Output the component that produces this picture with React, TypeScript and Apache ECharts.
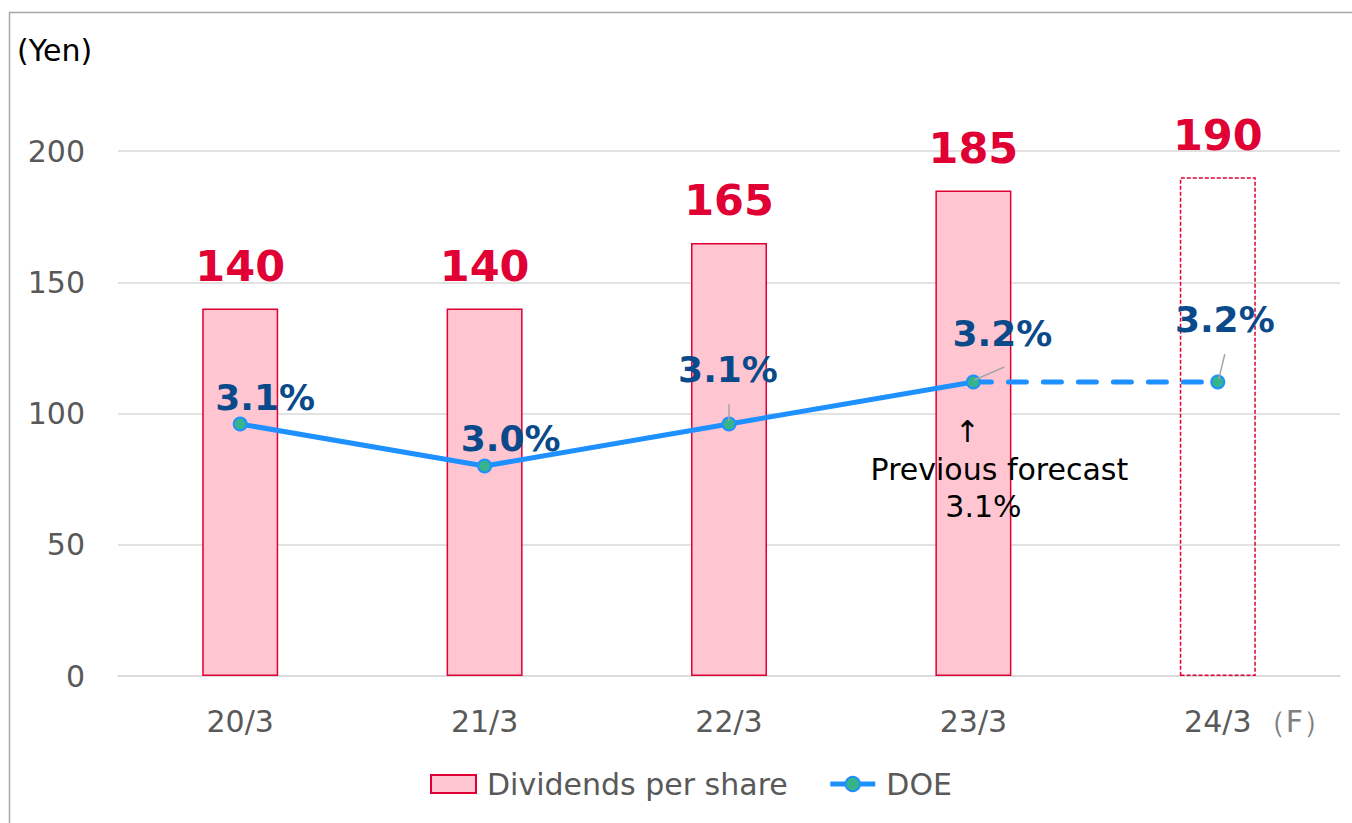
import React, { useEffect, useRef } from 'react';
import * as echarts from 'echarts';

const categories = ['20/3', '21/3', '22/3', '23/3', '24/3'];
const dividends = [140, 140, 165, 185, 190];
const doe = [3.1, 3.0, 3.1, 3.2, 3.2];
const forecastIndex = 4;
const yTickInterval = 50;
const previousForecastText = ['↑', 'Previous forecast', '3.1%'];

// label offsets relative to each DOE point (style only)
const doeLabelOffsets = [[25, -27], [26, -28], [-1, -55], [29, -49], [7, -63]];
// leader lines relative to DOE points: [index, x1, y1, x2, y2]
const leaderLines = [[2, 0, -20, 0, -3], [3, 1, -2, 31, -15], [4, 7, -28, 1, -3]];

const FONT = 'DejaVu Sans';
const RED = '#e00034';
const PINK = '#ffc6d1';
const BLUE = '#1e90ff';
const NAVY = '#0b4a8a';
const GREEN = '#35b38b';

export default function App() {
  const ref = useRef<HTMLDivElement>(null);
  useEffect(() => {
    document.body.style.margin = '0';
    const chart = echarts.init(ref.current!, undefined, { renderer: 'svg' });
    const solid = doe.map((v, i) => (i < forecastIndex ? v : null));
    const dashed = doe.map((v, i) => (i >= forecastIndex - 1 ? v : null));
    const labelFor = (i: number) => ({
      show: true,
      position: 'inside',
      offset: doeLabelOffsets[i],
      formatter: (p: any) => `${p.value.toFixed(1)}%`,
      color: NAVY,
      fontSize: 36,
      fontWeight: 'bold',
      fontFamily: FONT,
    });
    const baseGraphic: any[] = [
      {
        id: 'frame', type: 'rect', silent: true, z: -10,
        shape: { x: 9.5, y: 12.5, width: 1500, height: 1000 },
        style: { fill: 'none', stroke: '#a6a6a6', lineWidth: 1.5 },
      },
      {
        id: 'yen', type: 'text', x: 17, y: 50,
        style: { text: '(Yen)', fontSize: 30, fontFamily: FONT, fill: '#000', textVerticalAlign: 'middle' },
      },
    ];
    chart.setOption({
      animation: false,
      grid: { left: 118, right: 12, top: 151, bottom: 147, containLabel: false },
      legend: {
        left: 425, top: 764, itemWidth: 45, itemHeight: 18, itemGap: 40,
        data: [
          { name: 'Dividends per share', icon: 'rect' },
          { name: 'DOE', lineStyle: { width: 5, color: BLUE } },
        ],
        textStyle: { fontSize: 30, fontFamily: FONT, color: '#595959', padding: [0, 0, 0, 6] },
      },
      xAxis: {
        type: 'category',
        data: categories,
        axisTick: { show: false },
        axisLine: { lineStyle: { color: '#d9d9d9', width: 1.5 } },
        axisLabel: {
          interval: 0,
          margin: 30, fontSize: 30, fontFamily: FONT, color: '#595959',
          formatter: (v: string, i: number) => (i === forecastIndex ? `{p|}{a|${v}}{f|（F）}` : v),
          rich: {
            p: { width: 76 },
            a: { fontSize: 30, fontFamily: FONT, color: '#595959' },
            f: { fontSize: 30, fontFamily: FONT, color: '#808080', width: 66, padding: [0, 0, 0, 10] },
          },
        },
      },
      yAxis: [
        {
          type: 'value', min: 0, max: 200, interval: yTickInterval,
          axisLine: { show: false }, axisTick: { show: false },
          axisLabel: { margin: 33, fontSize: 30, fontFamily: FONT, color: '#595959' },
          splitLine: { lineStyle: { color: '#d9d9d9', width: 1.5 } },
        },
        { type: 'value', min: 2.5, max: 3.75, show: false, splitLine: { show: false } },
      ],
      series: [
        {
          name: 'Dividends per share', type: 'bar', barWidth: 76,
          itemStyle: { color: PINK, borderColor: RED, borderWidth: 1.5 },
          label: {
            show: true, position: 'top', distance: 21, color: RED,
            fontSize: 43, fontWeight: 'bold', fontFamily: FONT,
          },
          data: dividends.map((v, i) =>
            i === forecastIndex
              ? { value: v, itemStyle: { color: 'rgba(255,255,255,0)', borderColor: RED, borderWidth: 1.5, borderType: [4, 2] } }
              : v
          ),
        },
        {
          name: 'DOE', type: 'line', yAxisIndex: 1, z: 5,
          symbol: 'circle', symbolSize: 13,
          lineStyle: { color: BLUE, width: 5 },
          itemStyle: { color: GREEN, borderColor: BLUE, borderWidth: 2 },
          data: solid.map((v, i) => (v === null ? null : { value: v, label: labelFor(i) })),
        },
        {
          name: 'DOE', type: 'line', yAxisIndex: 1, z: 4,
          symbol: 'circle', symbolSize: 13,
          lineStyle: { color: BLUE, width: 5, type: [18, 17], cap: 'round' },
          itemStyle: { color: GREEN, borderColor: BLUE, borderWidth: 2 },
          data: dashed.map((v, i) =>
            v === null ? null : i === forecastIndex ? { value: v, label: labelFor(i) } : { value: v, symbol: 'none' }
          ),
        },
      ],
      graphic: baseGraphic,
    });

    const pt = (i: number) => chart.convertToPixel({ seriesIndex: 1 }, [i, doe[i]]) as number[];
    const extra: any[] = [];
    leaderLines.forEach(([idx, x1, y1, x2, y2], k) => {
      const [px, py] = pt(idx);
      extra.push({
        id: 'leader' + k, type: 'line', silent: true, z: 100,
        shape: { x1: px + x1, y1: py + y1, x2: px + x2, y2: py + y2 },
        style: { stroke: '#a6a6a6', lineWidth: 1.5 },
      });
    });
    const [ax, ay] = pt(3);
    const annOffsets = [[-6, 49], [26, 87], [10, 124]];
    previousForecastText.forEach((t, k) => {
      extra.push({
        id: 'ann' + k, type: 'text', z: 100,
        x: ax + annOffsets[k][0], y: ay + annOffsets[k][1],
        style: { text: t, fontSize: 30, fontFamily: FONT, fill: '#000', textAlign: 'center', textVerticalAlign: 'middle' },
      });
    });
    chart.setOption({ graphic: [...baseGraphic, ...extra] });
    return () => chart.dispose();
  }, []);
  return <div ref={ref} style={{ width: 1352, height: 823 }} />;
}
